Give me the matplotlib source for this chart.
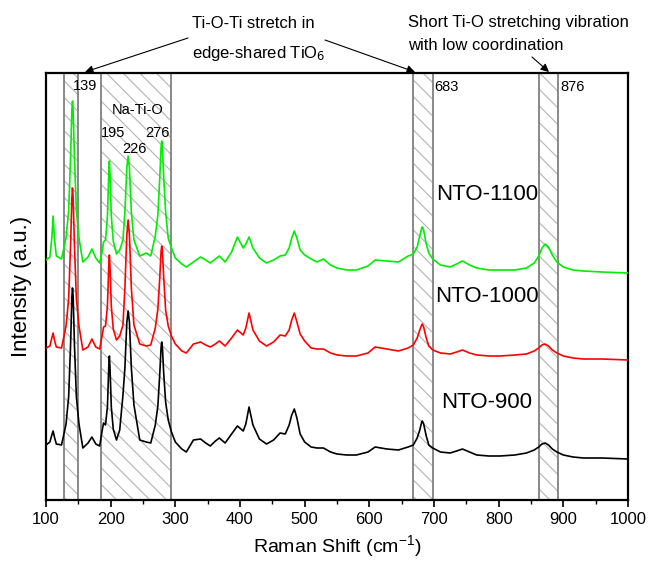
import numpy as np
import matplotlib
matplotlib.use('Agg')
import matplotlib.pyplot as plt
from matplotlib.ticker import MultipleLocator
from matplotlib import rcParams

rcParams['font.family'] = ['Liberation Sans', 'DejaVu Sans']
rcParams['mathtext.default'] = 'regular'
rcParams['hatch.linewidth'] = 0.8

# Raman shift grid (cm-1), shared by the three spectra
shift = [100, 106, 109, 111, 113, 116, 124, 131, 135, 138, 140, 141, 142, 144, 147, 151,
         157, 165, 171, 177, 183, 187, 189, 192, 195, 197, 198, 199, 201, 204, 209, 214,
         219, 222, 225, 227, 229, 232, 236, 245, 255, 262, 269, 273, 276, 278, 279, 280,
         282, 285, 289, 294, 300,
         310, 317, 328, 339, 347, 354, 362, 368, 377, 387, 396, 405, 409, 414, 420, 430,
         441, 452, 462, 470, 476, 480, 484, 488, 493, 500, 510, 519, 529, 540, 550, 565,
         580, 598, 609, 627, 645, 660,
         668, 674, 678, 681, 682, 684, 688, 692, 698, 710, 725, 735, 744, 755, 766, 785,
         802, 825, 843, 855, 862, 867, 872, 877, 883, 890, 900, 915, 931, 960, 1000]

# intensities (a.u., already offset for stacking)
nto_1100 = [240, 243, 262, 284, 262, 244, 241, 262, 289, 342, 390, 399, 390, 342, 289, 262,
            238, 243, 251, 242, 237, 249, 258, 260, 284, 326, 339, 326, 284, 259, 246, 250,
            260, 288, 332, 344, 332, 288, 260, 244, 247, 244, 264, 285, 323, 353, 359, 353,
            323, 288, 262, 252, 242,
            236, 233, 238, 243, 240, 237, 241, 244, 238, 248, 263, 252, 256, 263, 252, 242,
            237, 240, 244, 245, 252, 262, 269, 262, 250, 245, 241, 238, 241, 235, 232, 230,
            230, 234, 240, 239, 238, 244,
            246, 253, 264, 272, 273, 270, 256, 247, 241, 235, 233, 236, 239, 235, 232, 230,
            230, 230, 232, 237, 244, 252, 256, 253, 245, 238, 233, 230, 229, 228, 227]
nto_1000 = [152, 154, 162, 167, 160, 153, 152, 174, 201, 254, 302, 312, 302, 254, 201, 174,
            150, 153, 161, 153, 151, 165, 173, 174, 194, 233, 245, 233, 194, 171, 160, 164,
            175, 212, 265, 280, 265, 212, 175, 156, 154, 155, 172, 191, 223, 249, 254, 249,
            223, 190, 174, 164, 156,
            149, 147, 156, 158, 155, 153, 156, 159, 154, 162, 170, 165, 172, 187, 170, 159,
            154, 158, 165, 164, 170, 180, 187, 178, 166, 159, 152, 151, 151, 147, 145, 144,
            144, 147, 153, 151, 149, 152,
            155, 162, 170, 175, 176, 173, 162, 154, 150, 147, 146, 148, 150, 147, 145, 144,
            144, 145, 146, 149, 152, 155, 156, 154, 150, 147, 144, 142, 141, 141, 140]
nto_900 = [55, 58, 65, 69, 63, 56, 55, 76, 103, 155, 203, 212, 203, 155, 103, 76,
           52, 57, 63, 56, 54, 70, 77, 75, 93, 132, 144, 132, 93, 71, 60, 70,
           105, 132, 178, 189, 178, 132, 95, 60, 58, 57, 75, 94, 127, 153, 158, 153,
           127, 98, 80, 68, 58,
           51, 48, 60, 61, 57, 54, 59, 62, 57, 66, 74, 69, 76, 93, 75, 61,
           56, 60, 67, 66, 75, 85, 91, 82, 66, 58, 53, 52, 52, 48, 46, 45,
           45, 48, 53, 51, 50, 53,
           55, 62, 70, 78, 79, 76, 64, 55, 52, 48, 47, 49, 51, 48, 45, 44,
           44, 45, 47, 50, 53, 56, 57, 55, 51, 48, 45, 43, 42, 42, 41]

samples = ['NTO-900', 'NTO-1000', 'NTO-1100']
colors = ['black', '#ff0000', '#00ee00']
label_y = [97, 203, 305]

# hatched bands (cm-1)
bands = [(128, 150), (185, 293), (667, 698), (862, 892)]

fig = plt.figure(figsize=(6.51, 5.61), dpi=100)
ax = fig.add_axes([46/651, 1 - 500/561, 582/651, 427/561])

for lo, hi in bands:
    ax.axvspan(lo, hi, facecolor='none', edgecolor='#b4b4b4', hatch='\\\\', lw=0, zorder=1)
    ax.axvspan(lo, hi, facecolor='none', edgecolor='#808080', lw=1.3, zorder=2)

for ys, c in zip([nto_900, nto_1000, nto_1100], colors):
    ax.plot(shift, ys, color=c, lw=1.2, zorder=3)

for name, y in zip(samples, label_y):
    ax.text(782, y, name, fontsize=16, ha='center', va='center')

# peak labels
ax.text(141, 414, '139', fontsize=10.5, ha='left', va='center')
ax.text(241, 390, 'Na-Ti-O', fontsize=10.5, ha='center', va='center')
ax.text(204, 367, '195', fontsize=10.5, ha='center', va='center')
ax.text(236, 351, '226', fontsize=10.5, ha='center', va='center')
ax.text(273, 367, '276', fontsize=10.5, ha='center', va='center')
ax.text(701, 413, '683', fontsize=10.5, ha='left', va='center')
ax.text(896, 413, '876', fontsize=10.5, ha='left', va='center')

ax.set_xlim(100, 1000)
ax.set_ylim(0, 427)
ax.xaxis.set_major_locator(MultipleLocator(100))
ax.xaxis.set_minor_locator(MultipleLocator(50))
ax.tick_params(axis='x', which='major', direction='out', length=5, width=1.2, labelsize=12, pad=4)
ax.tick_params(axis='x', which='minor', direction='out', length=3, width=1.0)
ax.set_yticks([])
for sp in ax.spines.values():
    sp.set_linewidth(1.6)

ax.set_xlabel('Raman Shift (cm$^{-1}$)', fontsize=14, labelpad=4)
ax.set_ylabel('Intensity (a.u.)', fontsize=16, labelpad=10)

# annotations above the frame (figure pixel positions)
W, H = 651, 561
def fp(x, y):
    return (x / W, 1 - y / H)

fig.text(*fp(192, 24), 'Ti-O-Ti stretch in', fontsize=12, ha='left', va='center')
fig.text(*fp(192, 54), 'edge-shared TiO$_{\\mathsf{6}}$', fontsize=12, ha='left', va='center')
fig.text(*fp(408, 23), 'Short Ti-O stretching vibration', fontsize=12, ha='left', va='center')
fig.text(*fp(408, 46), 'with low coordination', fontsize=12, ha='left', va='center')

arrows = [((188, 38), (85, 72)), ((325, 40), (415, 72)), ((532, 57), (549, 72))]
for start, end in arrows:
    ax.annotate('', xy=fp(*end), xycoords='figure fraction',
                xytext=fp(*start), textcoords='figure fraction',
                arrowprops=dict(arrowstyle='-|>', color='black', lw=0.8,
                                mutation_scale=12, shrinkA=0, shrinkB=0))

fig.savefig('out.png', dpi=100)
